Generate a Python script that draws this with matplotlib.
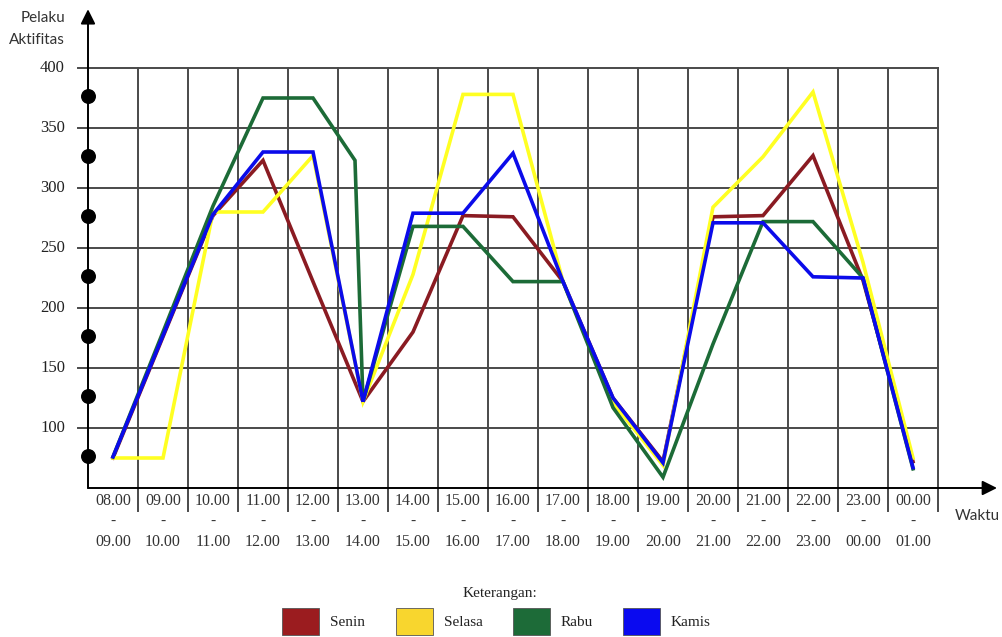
import matplotlib
matplotlib.use("Agg")
import matplotlib.pyplot as plt
from matplotlib.patches import Rectangle

# ---------------- data ----------------
slots_start = ["08.00", "09.00", "10.00", "11.00", "12.00", "13.00", "14.00", "15.00",
               "16.00", "17.00", "18.00", "19.00", "20.00", "21.00", "22.00", "23.00", "00.00"]
slots_end = ["09.00", "10.00", "11.00", "12.00", "13.00", "14.00", "15.00", "16.00",
             "17.00", "18.00", "19.00", "20.00", "21.00", "22.00", "23.00", "00.00", "01.00"]

slot_index = [0, 1, 2, 3, 4, 5, 6, 7, 8, 9, 10, 11, 12, 13, 14, 15, 16]

senin = [75, 176, 277, 323, 222, 122, 180, 277, 276, 222, 125, 72, 276, 277, 327, 223, 72]
selasa = [75, 75, 280, 280, 327, 122, 228, 378, 378, 222, 121, 69, 284, 326, 380, 238, 75]
kamis = [76, 177, 278, 330, 330, 122, 279, 279, 329, 222, 125, 71, 271, 271, 226, 225, 67]

# Rabu has one extra point just before the 13.00 dip
rabu_index = [0, 1, 2, 3, 4, 4.84, 5, 6, 7, 8, 9, 10, 11, 12, 13, 14, 15, 16]
rabu = [76, 180, 285, 375, 375, 323, 122, 268, 268, 222, 222, 117, 59, 170, 272, 272, 225, 66]

series_names = ["Senin", "Selasa", "Rabu", "Kamis"]
line_colors = ["#8a1b22", "#ffff22", "#1c6b37", "#0b0bea"]
swatch_colors = ["#9b1c1f", "#f8d62e", "#1d6b38", "#0a0af0"]

y_ticks = [100, 150, 200, 250, 300, 350, 400]
axis_dots = [377, 327, 277, 227, 177, 127, 77]

# ---------------- figure ----------------
W, H = 1002, 637
fig = plt.figure(figsize=(W / 100, H / 100), dpi=100)
ax = fig.add_axes([88 / W, (H - 488) / H, 850 / W, 420 / H])
ax.set_xlim(0, len(slots_start))
ax.set_ylim(50, 400)
ax.axis("off")

grid_c = "#4a4a4a"
n = len(slots_start)
# horizontal grid lines (extend a little left of the axis as ticks)
for v in y_ticks:
    ax.plot([-0.2, n], [v, v], color=grid_c, lw=1.4, clip_on=False, zorder=1)
# vertical grid lines (extend below the x axis as separators)
for i in range(1, n + 1):
    ax.plot([i, i], [31, 400], color=grid_c, lw=1.4, clip_on=False, zorder=1)

# axes with arrows
ax.annotate("", xy=(0, 449), xytext=(0, 50),
            arrowprops=dict(arrowstyle="-|>", color="black", lw=1.4,
                            mutation_scale=22, shrinkA=0, shrinkB=0),
            annotation_clip=False, zorder=3)
ax.annotate("", xy=(18.18, 50), xytext=(0, 50),
            arrowprops=dict(arrowstyle="-|>", color="black", lw=1.4,
                            mutation_scale=22, shrinkA=0, shrinkB=0),
            annotation_clip=False, zorder=3)

# dots on the y axis
ax.scatter([0] * len(axis_dots), axis_dots, s=95, color="black", zorder=4, clip_on=False)

# data lines
xs = [i + 0.5 for i in slot_index]
rx = [i + 0.5 for i in rabu_index]
ax.plot(xs, senin, color=line_colors[0], lw=2.6, zorder=5, solid_joinstyle="miter")
ax.plot(xs, selasa, color=line_colors[1], lw=2.6, zorder=5, solid_joinstyle="miter")
ax.plot(rx, rabu, color=line_colors[2], lw=2.6, zorder=5, solid_joinstyle="miter")
ax.plot(xs, kamis, color=line_colors[3], lw=2.6, zorder=6, solid_joinstyle="miter")

serif = ["Liberation Serif", "DejaVu Serif"]
sans = ["Lato", "DejaVu Sans"]

# y tick labels
for v in y_ticks:
    ax.text(-0.46, v, str(v), ha="right", va="center", fontsize=12,
            family=serif, color="#222222")

# x tick labels (three lines)
for i, (a, b) in enumerate(zip(slots_start, slots_end)):
    ax.text(i + 0.5, 50 - 11, a, ha="center", va="center", fontsize=11.5,
            family=serif, color="#333333")
    ax.text(i + 0.5, 50 - 28, "-", ha="center", va="center", fontsize=11,
            family=serif, color="#333333")
    ax.text(i + 0.5, 50 - 45, b, ha="center", va="center", fontsize=11.5,
            family=serif, color="#333333")

# axis titles
fig.text(65 / W, 1 - 18 / H, "Pelaku", ha="right", va="center", fontsize=11,
         family=sans, color="#333333")
fig.text(65 / W, 1 - 40 / H, "Aktifitas", ha="right", va="center", fontsize=11,
         family=sans, color="#333333")
fig.text(977 / W, 1 - 516 / H, "Waktu", ha="center", va="center", fontsize=11,
         family=sans, color="#333333")

# legend
fig.text(500 / W, 1 - 593 / H, "Keterangan:", ha="center", va="center",
         fontsize=11, family=serif, color="#222222")
sw_left = [282, 396, 513, 623]
for name, col, xl in zip(series_names, swatch_colors, sw_left):
    fig.patches.append(Rectangle((xl / W, 1 - 635 / H), 37 / W, 27 / H,
                                 transform=fig.transFigure, facecolor=col,
                                 edgecolor="#555555", lw=0.6))
    fig.text((xl + 48) / W, 1 - 622 / H, name, ha="left", va="center",
             fontsize=11, family=serif, color="#222222")

fig.savefig("out.png", dpi=100)
